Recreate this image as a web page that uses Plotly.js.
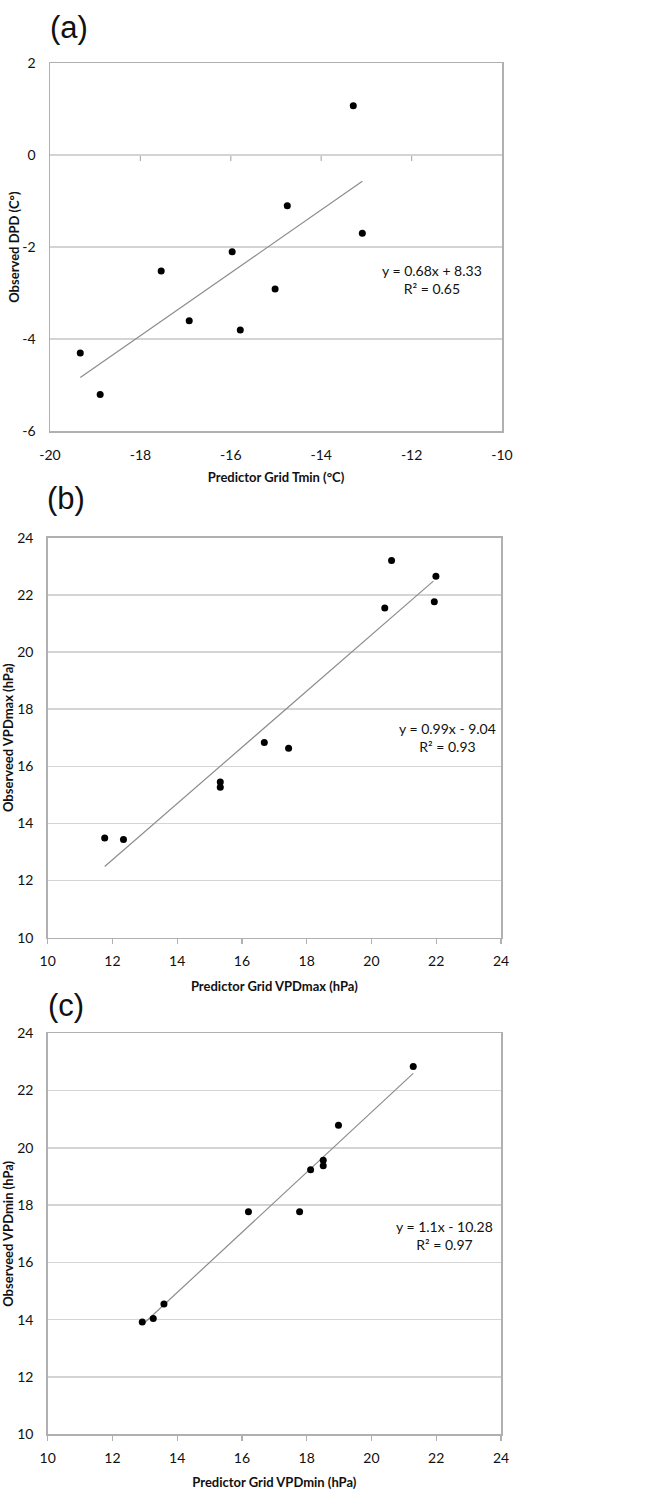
<!DOCTYPE html>
<html>
<head>
<meta charset="utf-8">
<script src="https://cdn.plot.ly/plotly-3.0.1.min.js"></script>
<style>html,body{margin:0;padding:0;background:#fff;}#chart{width:666px;height:1495px;}</style>
</head>
<body>
<div id="chart"></div>
<script>
// ---- Panel (a) data ----
const aX = [-13.29, -14.75, -13.09, -15.97, -17.54, -15.02, -16.92, -15.79, -19.33, -18.89];
const aY = [1.07, -1.10, -1.70, -2.10, -2.52, -2.91, -3.60, -3.80, -4.30, -5.20];
const aTrendX = [-19.33, -13.09];
const aTrendY = [-4.83, -0.57];
const aXTicks = [-20, -18, -16, -14, -12, -10];
const aYTicks = [-6, -4, -2, 0, 2];
const aEquation = ["y = 0.68x + 8.33", "R² = 0.65"];

// ---- Panel (b) data ----
const bX = [20.62, 21.99, 20.41, 21.94, 16.69, 17.44, 15.33, 15.33, 11.76, 12.34];
const bY = [23.20, 22.65, 21.54, 21.76, 16.83, 16.63, 15.45, 15.27, 13.49, 13.44];
const bTrendX = [11.76, 21.91];
const bTrendY = [12.49, 22.48];
const bXTicks = [10, 12, 14, 16, 18, 20, 22, 24];
const bYTicks = [10, 12, 14, 16, 18, 20, 22, 24];
const bEquation = ["y = 0.99x - 9.04", "R² = 0.93"];

// ---- Panel (c) data ----
const cX = [21.29, 18.98, 18.51, 18.51, 18.12, 16.20, 17.78, 13.59, 13.26, 12.92];
const cY = [22.84, 20.79, 19.57, 19.38, 19.24, 17.77, 17.77, 14.55, 14.04, 13.92];
const cTrendX = [12.95, 21.29];
const cTrendY = [13.85, 22.60];
const cXTicks = [10, 12, 14, 16, 18, 20, 22, 24];
const cYTicks = [10, 12, 14, 16, 18, 20, 22, 24];
const cEquation = ["y = 1.1x - 10.28", "R² = 0.97"];

const panelLabels = ["(a)", "(b)", "(c)"];
const xTitles = ["Predictor Grid Tmin (°C)", "Predictor Grid VPDmax (hPa)", "Predictor Grid VPDmin (hPa)"];
const yTitles = ["Observed DPD (C°)", "Observeed VPDmax (hPa)", "Observeed VPDmin (hPa)"];

// ---- styling ----
const W = 666, H = 1495;
const FONT = "Lato, 'Open Sans', sans-serif";
const gridColor = "#d4d4d4";
const lineColor = "#b0b0b0";
const px = v => v / W;
const py = v => 1 - v / H;

function scatter(x, y, xa, ya) {
  return {x: x, y: y, xaxis: xa, yaxis: ya, type: "scatter", mode: "markers",
          marker: {color: "#000", size: 7}, showlegend: false, hoverinfo: "x+y"};
}
function trend(x, y, xa, ya) {
  return {x: x, y: y, xaxis: xa, yaxis: ya, type: "scatter", mode: "lines",
          line: {color: "#8c8c8c", width: 1.2}, showlegend: false, hoverinfo: "skip"};
}

const data = [
  trend(aTrendX, aTrendY, "x", "y"), scatter(aX, aY, "x", "y"),
  trend(bTrendX, bTrendY, "x2", "y2"), scatter(bX, bY, "x2", "y2"),
  trend(cTrendX, cTrendY, "x3", "y3"), scatter(cX, cY, "x3", "y3")
];

function xAxis(domain, ticks, anchor, title, showTicks, standoff) {
  return {
    domain: domain, anchor: anchor, range: [ticks[0], ticks[ticks.length - 1]],
    tickmode: "array", tickvals: ticks, ticktext: ticks.map(String),
    showgrid: false, zeroline: false, showline: true, mirror: true,
    linecolor: lineColor, linewidth: 1.5,
    ticks: showTicks ? "outside" : "", ticklen: 5, tickwidth: 1.2, tickcolor: lineColor,
    ticklabelstandoff: showTicks ? 5 : 10,
    tickfont: {family: FONT, size: 14, color: "#111"},
    title: {text: title, font: {family: FONT, size: 13, color: "#111", weight: "bold"}, standoff: standoff},
    automargin: false, fixedrange: true
  };
}
function yAxis(domain, ticks, anchor, title, standoff) {
  return {
    domain: domain, anchor: anchor, range: [ticks[0], ticks[ticks.length - 1]],
    tickmode: "array", tickvals: ticks, ticktext: ticks.map(String),
    showgrid: true, gridcolor: gridColor, gridwidth: 1.5,
    zeroline: false, showline: true, mirror: true,
    linecolor: lineColor, linewidth: 1.5, ticks: "",
    ticklabelstandoff: 10,
    tickfont: {family: FONT, size: 14, color: "#111"},
    title: {text: title, font: {family: FONT, size: 13, color: "#111", weight: "bold"}, standoff: standoff},
    automargin: false, fixedrange: true
  };
}

const layout = {
  width: W, height: H,
  margin: {l: 0, r: 0, t: 0, b: 0},
  paper_bgcolor: "#fff", plot_bgcolor: "#fff",
  showlegend: false,
  xaxis: xAxis([px(50), px(502)], aXTicks, "y", xTitles[0], false, 11),
  yaxis: yAxis([py(431.3), py(63)], aYTicks, "x", yTitles[0], 0),
  xaxis2: xAxis([px(47.7), px(501)], bXTicks, "y2", xTitles[1], true, 14),
  yaxis2: yAxis([py(937.7), py(537.7)], bYTicks, "x2", yTitles[1], 4),
  xaxis3: xAxis([px(47.7), px(501)], cXTicks, "y3", xTitles[2], true, 13),
  yaxis3: yAxis([py(1434.3), py(1033.3)], cYTicks, "x3", yTitles[2], 4),
  shapes: [],
  annotations: []
};

// Panel (a): horizontal axis crosses at y = 0 with downward tick marks
layout.shapes.push({type: "line", xref: "x", yref: "y", x0: aXTicks[0], x1: aXTicks[aXTicks.length - 1],
  y0: 0, y1: 0, line: {color: lineColor, width: 1.5}, layer: "below"});
aXTicks.slice(1, -1).forEach(t => {
  layout.shapes.push({type: "line", xref: "x", yref: "y", ysizemode: "pixel", yanchor: 0,
    x0: t, x1: t, y0: 0, y1: -6, line: {color: lineColor, width: 1.2}, layer: "below"});
});

// Equations
function eq(lines, xref, yref, xv, yv) {
  layout.annotations.push({xref: xref, yref: yref, x: xv, y: yv, text: lines.join("<br>"),
    showarrow: false, align: "center", xanchor: "center", yanchor: "middle",
    font: {family: FONT, size: 14, color: "#111"}});
}
eq(aEquation, "x", "y", -11.55, -2.70);
eq(bEquation, "x2", "y2", 22.36, 17.02);
eq(cEquation, "x3", "y3", 22.25, 16.95);

// Panel labels
const labelPos = [[69, 27], [66, 499], [66, 1005]];
panelLabels.forEach((t, i) => {
  layout.annotations.push({xref: "paper", yref: "paper", x: px(labelPos[i][0]), y: py(labelPos[i][1]),
    text: t, showarrow: false, xanchor: "center", yanchor: "middle",
    font: {family: "'Liberation Sans', Arial, sans-serif", size: 31, color: "#111"}});
});

Plotly.newPlot("chart", data, layout, {displayModeBar: false, staticPlot: true});
</script>
</body>
</html>
